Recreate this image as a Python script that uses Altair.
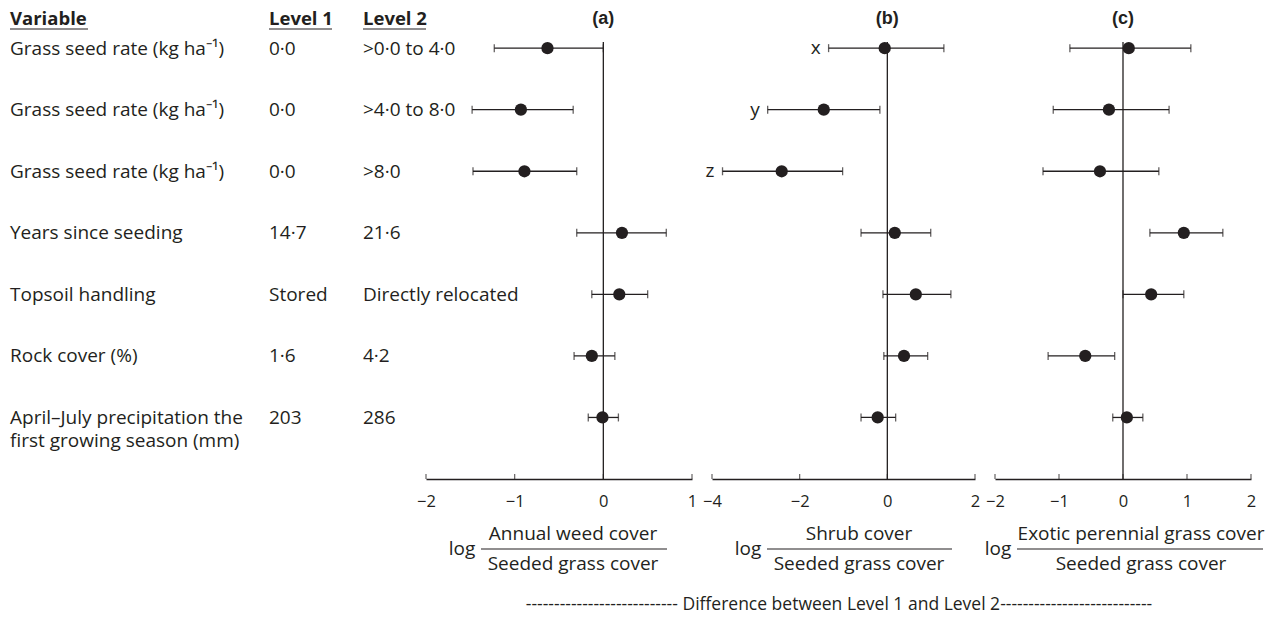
import altair as alt
import pandas as pd

# ---------------- data ----------------
variables = [
    "Grass seed rate (kg ha\u207b\u00b9)",
    "Grass seed rate (kg ha\u207b\u00b9)",
    "Grass seed rate (kg ha\u207b\u00b9)",
    "Years since seeding",
    "Topsoil handling",
    "Rock cover (%)",
    "April\u2013July precipitation the\nfirst growing season (mm)",
]
level1 = ["0\u00b70", "0\u00b70", "0\u00b70", "14\u00b77", "Stored", "1\u00b76", "203"]
level2 = [">0\u00b70 to 4\u00b70", ">4\u00b70 to 8\u00b70", ">8\u00b70", "21\u00b76",
          "Directly relocated", "4\u00b72", "286"]
headers = ["Variable", "Level 1", "Level 2"]

# (a) annual weed cover / seeded grass cover
est_a = [-0.63, -0.93, -0.89, 0.21, 0.18, -0.13, -0.01]
lo_a = [-1.23, -1.48, -1.47, -0.30, -0.13, -0.33, -0.17]
hi_a = [0.00, -0.34, -0.30, 0.71, 0.50, 0.13, 0.17]

# (b) shrub cover / seeded grass cover
est_b = [-0.06, -1.45, -2.41, 0.17, 0.65, 0.38, -0.22]
lo_b = [-1.34, -2.73, -3.76, -0.60, -0.10, -0.08, -0.60]
hi_b = [1.29, -0.17, -1.02, 0.99, 1.45, 0.92, 0.19]
letters_b = ["x", "y", "z", "", "", "", ""]

# (c) exotic perennial grass cover / seeded grass cover
est_c = [0.09, -0.22, -0.36, 0.95, 0.44, -0.59, 0.06]
lo_c = [-0.83, -1.09, -1.25, 0.42, 0.00, -1.17, -0.16]
hi_c = [1.06, 0.72, 0.56, 1.56, 0.95, -0.13, 0.31]

ticks_a = [-2, -1, 0, 1]
ticks_b = [-4, -2, 0, 2]
ticks_c = [-2, -1, 0, 1, 2]

numerators = ["Annual weed cover", "Shrub cover", "Exotic perennial grass cover"]
denominator = "Seeded grass cover"
titles = ["(a)", "(b)", "(c)"]
footer = "-" * 27 + " Difference between Level 1 and Level 2" + "-" * 27

rows = list(range(1, len(variables) + 1))

# ---------------- style ----------------
INK = "#231f20"
FONT = "Open Sans"
H = 437
FS = 19
FFS = 19
yscale = alt.Scale(domain=[0.9, 8.0], reverse=True, nice=False, zero=False)

# ---------------- table ----------------
tdf = pd.DataFrame({"row": rows, "variable": variables, "level1": level1, "level2": level2})
tbase = alt.Chart(tdf)
ty = alt.Y("row:Q", scale=yscale, axis=None)
ttext = dict(align="left", baseline="alphabetic", dy=6.5, font=FONT, fontSize=FS,
             color=INK, lineBreak="\n", lineHeight=23)
table_layers = [
    tbase.mark_text(**ttext).encode(x=alt.value(10), y=ty, text="variable:N"),
    tbase.mark_text(**ttext).encode(x=alt.value(269), y=ty, text="level1:N"),
    tbase.mark_text(**ttext).encode(x=alt.value(363), y=ty, text="level2:N"),
]
hdf = pd.DataFrame({"h": headers})
head_x = [10, 269, 363]
head_w = [78, 63, 63]
for i, hx in enumerate(head_x):
    sub = alt.Chart(hdf).transform_filter(alt.datum.h == headers[i])
    table_layers.append(
        sub.mark_text(align="left", baseline="alphabetic", font=FONT, fontSize=FS - 0.5,
                      fontWeight="bold", color=INK)
        .encode(x=alt.value(hx), y=alt.value(-17), text="h:N")
    )
    table_layers.append(
        sub.mark_rule(color=INK, strokeWidth=1.2)
        .encode(x=alt.value(hx), x2=alt.value(hx + head_w[i]), y=alt.value(-13))
    )
# invisible anchor that fixes the top edge of the page layout
table_layers.append(
    alt.Chart(hdf.head(1)).mark_rule(strokeOpacity=0, strokeWidth=1)
    .encode(x=alt.value(0), x2=alt.value(1), y=alt.value(-41.5))
)
table = alt.layer(*table_layers).properties(width=406, height=H)


# ---------------- panels ----------------
def panel(est, lo, hi, ticks, width, title, numerator, log_x, frac_cx, line_x1, line_x2,
          letters=None, extra_text=None):
    df = pd.DataFrame({"row": rows, "est": est, "lo": lo, "hi": hi})
    if letters is not None:
        df["letter"] = letters
    xs = alt.Scale(domain=[ticks[0], ticks[-1]], nice=False, zero=False)
    axis = alt.Axis(values=ticks, ticks=False, tickSize=0, grid=False, domainColor=INK,
                    domainWidth=1.3, labelFont=FONT, labelFontSize=16.5, labelColor=INK,
                    labelPadding=14, labelFlush=False, title=None, format="d")
    y = alt.Y("row:Q", scale=yscale, axis=None)
    base = alt.Chart(df)
    zdf = pd.DataFrame({"zero": [0]})
    tdfp = pd.DataFrame({"t": ticks})
    layers = [
        base.mark_rule(color=INK, strokeWidth=1.3).encode(
            x=alt.X("lo:Q", scale=xs, axis=axis), x2="hi:Q", y=y),
        alt.Chart(zdf).mark_rule(color=INK, strokeWidth=1.3).encode(
            x="zero:Q", y=alt.value(0), y2=alt.value(H)),
        base.mark_tick(orient="vertical", size=8, thickness=1.3, color=INK).encode(
            x="lo:Q", y=y),
        base.mark_tick(orient="vertical", size=8, thickness=1.3, color=INK).encode(
            x="hi:Q", y=y),
        base.mark_circle(size=150, color=INK, opacity=1).encode(x="est:Q", y=y),
        alt.Chart(tdfp).mark_tick(orient="vertical", size=5, thickness=1.2, color=INK).encode(
            x="t:Q", y=alt.value(H - 2.5)),
        alt.Chart(zdf).mark_text(font="Liberation Sans", fontWeight="bold", fontSize=18,
                                 color=INK, baseline="middle").encode(
            x="zero:Q", y=alt.value(-23), text=alt.value(title)),
        alt.Chart(zdf).mark_text(font=FONT, fontSize=FFS, color=INK, baseline="middle",
                                 align="center").encode(
            x=alt.value(log_x), y=alt.value(507), text=alt.value("log")),
        alt.Chart(zdf).mark_text(font=FONT, fontSize=FFS, color=INK, baseline="middle",
                                 align="center").encode(
            x=alt.value(frac_cx), y=alt.value(492), text=alt.value(numerator)),
        alt.Chart(zdf).mark_text(font=FONT, fontSize=FFS, color=INK, baseline="middle",
                                 align="center").encode(
            x=alt.value(frac_cx), y=alt.value(522), text=alt.value(denominator)),
        alt.Chart(zdf).mark_rule(color=INK, strokeWidth=1.2).encode(
            x=alt.value(line_x1), x2=alt.value(line_x2), y=alt.value(507)),
    ]
    if letters is not None:
        layers.append(
            base.mark_text(font=FONT, fontSize=FS, color=INK, align="right",
                           baseline="middle", dx=-8).encode(x="lo:Q", y=y, text="letter:N")
        )
    if extra_text is not None:
        txt, cx, cy = extra_text
        layers.append(
            alt.Chart(zdf).mark_text(font=FONT, fontSize=17.5, color=INK, align="center",
                                     baseline="middle").encode(
                x=alt.value(cx), y=alt.value(cy), text=alt.value(txt))
        )
    return alt.layer(*layers).properties(width=width, height=H)


pa = panel(est_a, lo_a, hi_a, ticks_a, 266, titles[0], numerators[0], 36, 147, 55, 241)
pb = panel(est_b, lo_b, hi_b, ticks_b, 263, titles[1], numerators[1], 36, 147, 55, 240,
           letters=letters_b, extra_text=(footer, 127, 563))
pc = panel(est_c, lo_c, hi_c, ticks_c, 256, titles[2], numerators[2], 3, 146, 22, 268)

chart = alt.hconcat(table, pa, pb, pc, spacing=20, bounds="flush").properties(
    padding={"left": 0, "top": 0, "right": 0, "bottom": 0},
    background="white",
).configure_view(strokeWidth=0)

chart.save("out.html", embed_options={"renderer": "svg", "actions": False})
